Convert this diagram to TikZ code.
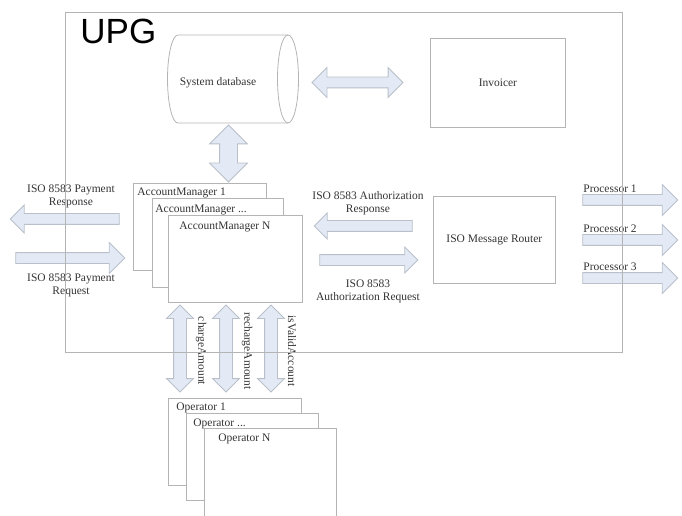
\documentclass[tikz,border=0pt]{standalone}
\usepackage{fontspec}
\setmainfont{Liberation Serif}
\newfontfamily\upgfont{Liberation Sans}
\usetikzlibrary{shapes.arrows}
\definecolor{linegray}{HTML}{B4B4B4}
\definecolor{flowfill}{HTML}{E3EAF5}
\definecolor{flowline}{HTML}{B9C0C9}
\definecolor{textgray}{HTML}{333333}
\begin{document}
\begin{tikzpicture}[x = 1bp, y = -1bp, line width = 0.8bp,
    every node/.style = {font = \fontsize{11.5bp}{13.5bp}\selectfont, text = textgray},
    box/.style = {draw = linegray, fill = white, inner sep = 0pt, anchor = north west},
    boxlabel/.style = {inner sep = 0pt, anchor = north west},
    flow/.style = {draw = flowline, fill = flowfill, inner sep = 5bp},
    sflow/.style = {flow, single arrow, single arrow head extend = #1},
    dflow/.style = {flow, double arrow, double arrow head extend = #1}]
    \useasboundingbox (0,0) rectangle (682,516);

    % system database
    \node[minimum width = 131bp, minimum height = 88bp, inner sep = 0pt] (db) at (233.5,79) {};
    \draw[draw = linegray] (288,35) -- (178,35) arc[start angle = 270, end angle = 90, x radius = 10.5, y radius = 44] -- (288,123);
    \draw[draw = linegray] (288,79) ellipse [x radius = 10.5, y radius = 44];
    \node (dblabel) at (218,83) {System database};

    \node[box, minimum width = 135bp, minimum height = 89bp] (invoicer) at (430,38) {Invoicer};
    \node[dflow = 9.5bp, minimum width = 29bp, minimum height = 91bp] (dbinv) at (357.5,82.5) {};
    \node[dflow = 10bp, inner sep = 8.5bp, minimum width = 37bp, minimum height = 57bp, shape border rotate = 90] (dbam) at (228.5,153.5) {};

    % account managers
    \node[box, minimum width = 133bp, minimum height = 87bp] (am1) at (133,183) {};
    \node[boxlabel] at ([shift = {(4,5)}]am1.north west) {AccountManager 1};
    \node[box, minimum width = 131bp, minimum height = 89bp] (amdots) at (152,198) {};
    \node[boxlabel] at ([shift = {(3,7)}]amdots.north west) {AccountManager ...};
    \node[box, minimum width = 134bp, minimum height = 87bp] (amn) at (168,215) {};
    \node[boxlabel] at ([shift = {(11,7)}]amn.north west) {AccountManager N};

    % payment messages
    \node[sflow = 8.5bp, minimum width = 27bp, minimum height = 109bp, shape border rotate = 180] (payresp) at (67.5,219) {};
    \node[sflow = 10bp, minimum width = 30bp, minimum height = 109bp] (payreq) at (67.5,258) {};
    \node[align = center] (payresplabel) at (71,196.5) {ISO 8583 Payment\\Response};
    \node[align = center] (payreqlabel) at (71,285.5) {ISO 8583 Payment\\Request};

    % router
    \node[box, minimum width = 122bp, minimum height = 87bp] (router) at (433,196) {ISO Message Router};
    \node[sflow = 7.5bp, minimum width = 25bp, minimum height = 98bp, shape border rotate = 180] (authresp) at (366,226) {};
    \node[sflow = 7.5bp, minimum width = 25bp, minimum height = 98bp] (authreq) at (366,260) {};
    \node[align = center] (authresplabel) at (368,203) {ISO 8583 Authorization\\Response};
    \node[align = center] (authreqlabel) at (368,291.5) {ISO 8583\\Authorization Request};

    \foreach \i/\y in {1/200, 2/240, 3/278} {
        \node[sflow = 10bp, minimum width = 30bp, minimum height = 95bp] (proc\i) at (627.5,\y) {};
        \node[boxlabel, anchor = west] at (583,\y-11) {Processor \i};
    }

    % operator calls
    \foreach \x/\name in {180/chargeAmount, 226/rechargeAmount, 271/isValidAccount} {
        \node[dflow = 7bp, inner sep = 6bp, minimum width = 26bp, minimum height = 87bp, shape border rotate = 90] (\name) at (\x,348.5) {};
        \node[rotate = -90] at (\x+21,351) {\name};
    }

    % operators
    \node[box, minimum width = 133bp, minimum height = 87bp] (op1) at (168,398) {};
    \node[boxlabel] at ([shift = {(8,4)}]op1.north west) {Operator 1};
    \node[box, minimum width = 132bp, minimum height = 87bp] (opdots) at (186,413) {};
    \node[boxlabel] at ([shift = {(7,5)}]opdots.north west) {Operator ...};
    \node[box, minimum width = 132bp, minimum height = 88bp] (opn) at (204,428) {};
    \node[boxlabel] at ([shift = {(14,5)}]opn.north west) {Operator N};

    % gateway frame
    \node[draw = linegray, minimum width = 557bp, minimum height = 340bp, inner sep = 0pt, anchor = north west] (upg) at (65,12) {};
    \node[font = \upgfont\fontsize{35bp}{35bp}\selectfont, text = black, inner sep = 0pt, anchor = base west] (upglabel) at (80,44) {UPG};
\end{tikzpicture}
\end{document}
